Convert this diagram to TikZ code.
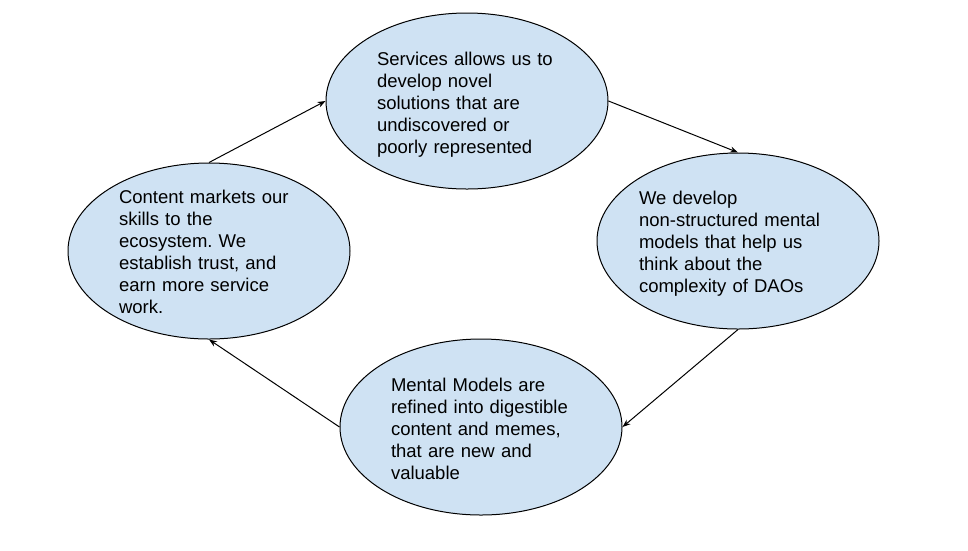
\documentclass[tikz,border=0pt]{standalone}
\usepackage{fontspec}
\setmainfont{Liberation Sans}
\usetikzlibrary{shapes.geometric,arrows.meta}
\definecolor{bubble}{HTML}{CFE2F3}
\tikzset{
  bubble/.style={ellipse, draw=black, line width=1pt, fill=bubble, minimum width=282pt, minimum height=176pt, inner sep=0pt},
  bubtext/.style={align=left, inner sep=0pt, font=\fontsize{18.5}{22}\selectfont\frenchspacing},
  flow/.style={draw=black, line width=1pt, -{Stealth[length=8pt,width=6pt]}}
}
\begin{document}
\begin{tikzpicture}[x=1pt,y=-1pt]
\useasboundingbox (0,0) rectangle (968,550);
\fill[white] (0,0) rectangle (968,550);
\node[bubble] (t) at (467,101) {};
\node[bubble] (r) at (738,241) {};
\node[bubble] (b) at (481,427) {};
\node[bubble] (l) at (209,251) {};
\node[bubtext, text width=180pt] (tt) at (467,105) {Services allows us to\\develop novel\\solutions that are\\undiscovered or\\poorly represented};
\node[bubtext, text width=198pt] (rt) at (738,244) {We develop\\non-structured mental\\models that help us\\think about the\\complexity of DAOs};
\node[bubtext, text width=180pt] (bt) at (481,429) {Mental Models are\\refined into digestible\\content and memes,\\that are new and\\valuable};
\node[bubtext, text width=180pt] (lt) at (209,252) {Content markets our\\skills to the\\ecosystem. We\\establish trust, and\\earn more service\\work.};
\draw[flow] (l.north) -- (t.west);
\draw[flow] (t.east) -- (r.north);
\draw[flow] (r.south) -- (b.east);
\draw[flow] (b.west) -- (l.south);
\end{tikzpicture}
\end{document}
